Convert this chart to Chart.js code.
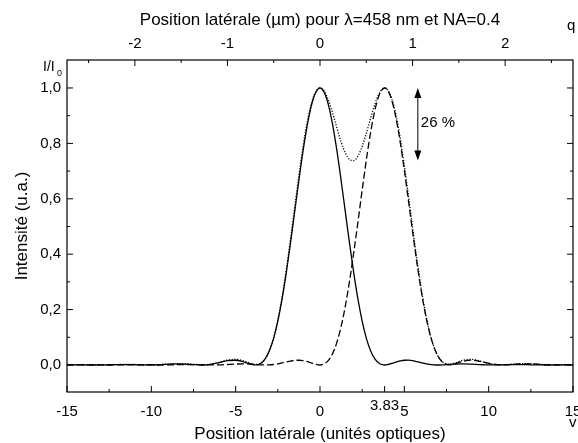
<!DOCTYPE html>
<html lang="fr">
<head>
<meta charset="UTF-8">
<title>Critère de Rayleigh</title>
<script src="https://cdn.jsdelivr.net/npm/chart.js"></script>
<style>body{margin:0;background:#fff}</style>
</head>
<body>
<canvas id="myChart" width="578" height="443"></canvas>
<script>
// position latérale (unités optiques)
const vPos = [-15,-14.5,-14,-13.5,-13,-12.5,-12,-11.5,-11,-10.5,-10,-9.5,-9,-8.5,-8,-7.5,-7,-6.5,-6,-5.5,-5,-4.5,
  -4,-3.75,-3.5,-3.25,-3,-2.75,-2.5,-2.25,-2,-1.75,-1.5,-1.25,-1,-0.75,-0.5,-0.25,
  0,0.25,0.5,0.75,1,1.25,1.5,1.75,2,2.25,2.5,2.75,3,3.25,3.5,3.75,3.83,4,
  4.25,4.5,4.75,5,5.25,5.5,5.75,6,6.25,6.5,6.75,7,7.25,7.5,7.75,8,
  8.5,9,9.5,10,10.5,11,11.5,12,12.5,13,13.5,14,14.5,15];

// tache centrée en 0 (trait plein)
const solidI = [0.0007,0.0007,0.0004,0.0000,0.0001,0.0007,0.0014,0.0016,0.0010,0.0002,0.0001,0.0012,0.0030,0.0041,0.0034,0.0013,0.0000,0.0022,0.0085,0.0154,0.0172,0.0106,
  0.0011,0.0003,0.0062,0.0220,0.0511,0.0960,0.1582,0.2376,0.3326,0.4397,0.5534,0.6675,0.7748,0.8671,0.9393,0.9842,
  1.0000,0.9842,0.9393,0.8671,0.7748,0.6675,0.5534,0.4397,0.3326,0.2376,0.1582,0.0960,0.0511,0.0220,0.0062,0.0003,0.0000,0.0011,
  0.0054,0.0106,0.0147,0.0172,0.0173,0.0154,0.0119,0.0085,0.0049,0.0022,0.0006,0.0000,0.0004,0.0013,0.0024,0.0034,
  0.0041,0.0030,0.0012,0.0001,0.0002,0.0010,0.0016,0.0014,0.0007,0.0001,0.0000,0.0004,0.0007,0.0007];

// tache centrée en 3.83 (tirets)
const dashedI = [0.0002,0.0004,0.0004,0.0002,0.0001,0.0000,0.0002,0.0006,0.0008,0.0006,0.0003,0.0000,0.0003,0.0010,0.0016,0.0014,0.0007,0.0001,0.0003,0.0018,0.0035,0.0040,
  0.0027,0.0016,0.0007,0.0001,0.0004,0.0017,0.0040,0.0073,0.0108,0.0143,0.0167,0.0172,0.0155,0.0119,0.0071,0.0025,
  0.0000,0.0043,0.0169,0.0418,0.0816,0.1383,0.2122,0.3022,0.4054,0.5166,0.6314,0.7415,0.8397,0.9188,0.9731,0.9984,1.0000,0.9928,
  0.9567,0.8929,0.8062,0.7029,0.5902,0.4761,0.3669,0.2680,0.1836,0.1159,0.0655,0.0313,0.0113,0.0022,0.0005,0.0040,
  0.0134,0.0173,0.0130,0.0061,0.0011,0.0003,0.0021,0.0038,0.0039,0.0024,0.0007,0.0000,0.0004,0.0012];

// somme des deux (pointillés)
const dottedI = [0.0009,0.0011,0.0008,0.0002,0.0002,0.0007,0.0016,0.0022,0.0018,0.0008,0.0004,0.0012,0.0033,0.0051,0.0050,0.0027,0.0007,0.0023,0.0088,0.0172,0.0207,0.0146,
  0.0038,0.0019,0.0069,0.0221,0.0515,0.0977,0.1622,0.2449,0.3434,0.4540,0.5701,0.6847,0.7903,0.8790,0.9464,0.9867,
  1.0000,0.9885,0.9562,0.9089,0.8564,0.8058,0.7656,0.7419,0.7380,0.7542,0.7896,0.8375,0.8908,0.9408,0.9793,0.9987,1.0000,0.9939,
  0.9621,0.9035,0.8209,0.7201,0.6075,0.4915,0.3788,0.2765,0.1885,0.1181,0.0661,0.0313,0.0117,0.0035,0.0029,0.0074,
  0.0175,0.0203,0.0142,0.0062,0.0013,0.0013,0.0037,0.0052,0.0046,0.0025,0.0007,0.0004,0.0011,0.0019];

const xMajor = [-15,-10,-5,0,5,10,15];
const xMinor = [-12.5,-7.5,-2.5,2.5,7.5,12.5];
const umMajor = [-2,-1,0,1,2];
const umMinor = [-2.5,-1.5,-0.5,0.5,1.5,2.5];
const yMajor = [0,0.2,0.4,0.6,0.8,1.0];
const yMinor = [0.1,0.3,0.5,0.7,0.9];
const rayleigh = 3.83;
const umMax = 2.733;
const dipTop = 1.0, dipBottom = 0.738, dipV = 5.8;

const FONT = "'Liberation Sans', Arial, sans-serif";
const pts = arr => vPos.map((v, i) => ({ x: v, y: arr[i] }));

const extras = {
  id: 'extras',
  afterDraw(chart) {
    const { ctx, chartArea: a, scales } = chart;
    const x = scales.x, xt = scales.xTop, y = scales.y;
    ctx.save();
    ctx.strokeStyle = '#000';
    ctx.lineWidth = 1.2;
    ctx.strokeRect(a.left, a.top, a.right - a.left, a.bottom - a.top);
    ctx.lineWidth = 1;
    ctx.beginPath();
    const vt = (px, y0, len) => { ctx.moveTo(px, y0); ctx.lineTo(px, y0 + len); };
    const ht = (py, x0, len) => { ctx.moveTo(x0, py); ctx.lineTo(x0 + len, py); };
    xMajor.forEach(v => vt(x.getPixelForValue(v), a.bottom, -6));
    xMinor.forEach(v => vt(x.getPixelForValue(v), a.bottom, -3));
    vt(x.getPixelForValue(rayleigh), a.bottom, -6);
    umMajor.forEach(v => vt(xt.getPixelForValue(v), a.top, 6));
    umMinor.forEach(v => vt(xt.getPixelForValue(v), a.top, 3));
    yMajor.forEach(v => { ht(y.getPixelForValue(v), a.left, 6); ht(y.getPixelForValue(v), a.right, -6); });
    yMinor.forEach(v => { ht(y.getPixelForValue(v), a.left, 3); ht(y.getPixelForValue(v), a.right, -3); });
    ctx.stroke();

    ctx.fillStyle = '#000';
    ctx.font = '15px ' + FONT;
    ctx.textAlign = 'center';
    ctx.textBaseline = 'middle';
    ctx.fillText('3.83', x.getPixelForValue(rayleigh), a.bottom + 14);

    // I/I0
    ctx.textAlign = 'left';
    ctx.font = '14px ' + FONT;
    ctx.fillText('I/I', 43, 67);
    ctx.font = '9px ' + FONT;
    ctx.fillText('0', 57, 74);
    ctx.font = '15px ' + FONT;
    ctx.fillText('q', 567, 26);
    ctx.fillText('v', 569, 423);

    // flèche double
    const ax = x.getPixelForValue(dipV);
    const y1 = y.getPixelForValue(dipTop), y2 = y.getPixelForValue(dipBottom);
    ctx.beginPath();
    ctx.moveTo(ax, y1 + 6); ctx.lineTo(ax, y2 - 6);
    ctx.stroke();
    ctx.beginPath();
    ctx.moveTo(ax, y1); ctx.lineTo(ax - 3.5, y1 + 10); ctx.lineTo(ax + 3.5, y1 + 10); ctx.closePath();
    ctx.moveTo(ax, y2); ctx.lineTo(ax - 3.5, y2 - 10); ctx.lineTo(ax + 3.5, y2 - 10); ctx.closePath();
    ctx.fill();
    ctx.fillText('26 %', ax + 3, (y1 + y2) / 2 - 1);
    ctx.restore();
  }
};

const lineDs = (arr, dash, order) => ({
  data: pts(arr),
  borderColor: '#000',
  borderWidth: 1.3,
  borderDash: dash,
  pointRadius: 0,
  fill: false,
  cubicInterpolationMode: 'monotone',
  order: order
});

const noSidePad = s => { s.paddingLeft = 0; s.paddingRight = 0; };

new Chart(document.getElementById('myChart'), {
  type: 'line',
  data: {
    datasets: [
      lineDs(solidI, [], 1),
      lineDs(dashedI, [7, 3], 2),
      lineDs(dottedI, [1.2, 1.6], 3)
    ]
  },
  options: {
    responsive: false,
    animation: false,
    layout: { autoPadding: false, padding: { left: 0, right: 5, top: 0, bottom: 0 } },
    plugins: { legend: { display: false }, tooltip: { enabled: false } },
    scales: {
      x: {
        type: 'linear', position: 'bottom', min: -15, max: 15,
        afterBuildTicks: s => { s.ticks = xMajor.map(v => ({ value: v })); },
        afterFit: s => { s.height = 51; noSidePad(s); },
        grid: { display: false, drawTicks: false },
        border: { display: false },
        ticks: { color: '#000', font: { family: FONT, size: 15 }, padding: 11, maxRotation: 0 },
        title: { display: true, text: 'Position latérale (unités optiques)', color: '#000',
          font: { family: FONT, size: 17 }, padding: { top: 0, bottom: -2 } }
      },
      xTop: {
        type: 'linear', position: 'top', min: -umMax, max: umMax,
        afterBuildTicks: s => { s.ticks = umMajor.map(v => ({ value: v })); },
        afterFit: s => { s.height = 60; noSidePad(s); },
        grid: { display: false, drawTicks: false },
        border: { display: false },
        ticks: { color: '#000', font: { family: FONT, size: 15 }, padding: 7, maxRotation: 0 },
        title: { display: true, text: 'Position latérale (µm) pour λ=458 nm et NA=0.4', color: '#000',
          font: { family: FONT, size: 17 }, padding: { top: 10, bottom: 0 } }
      },
      y: {
        type: 'linear', position: 'left', min: -0.0975, max: 1.101,
        afterBuildTicks: s => { s.ticks = yMajor.map(v => ({ value: v })); },
        afterFit: s => { s.width = 67; },
        grid: { display: false, drawTicks: false },
        border: { display: false },
        ticks: { color: '#000', font: { family: FONT, size: 15 }, padding: 6,
          callback: v => v.toFixed(1).replace('.', ',') },
        title: { display: true, text: 'Intensité (u.a.)', color: '#000',
          font: { family: FONT, size: 17 }, padding: { top: 12, bottom: 0 } }
      }
    }
  },
  plugins: [extras]
});
</script>
</body>
</html>
